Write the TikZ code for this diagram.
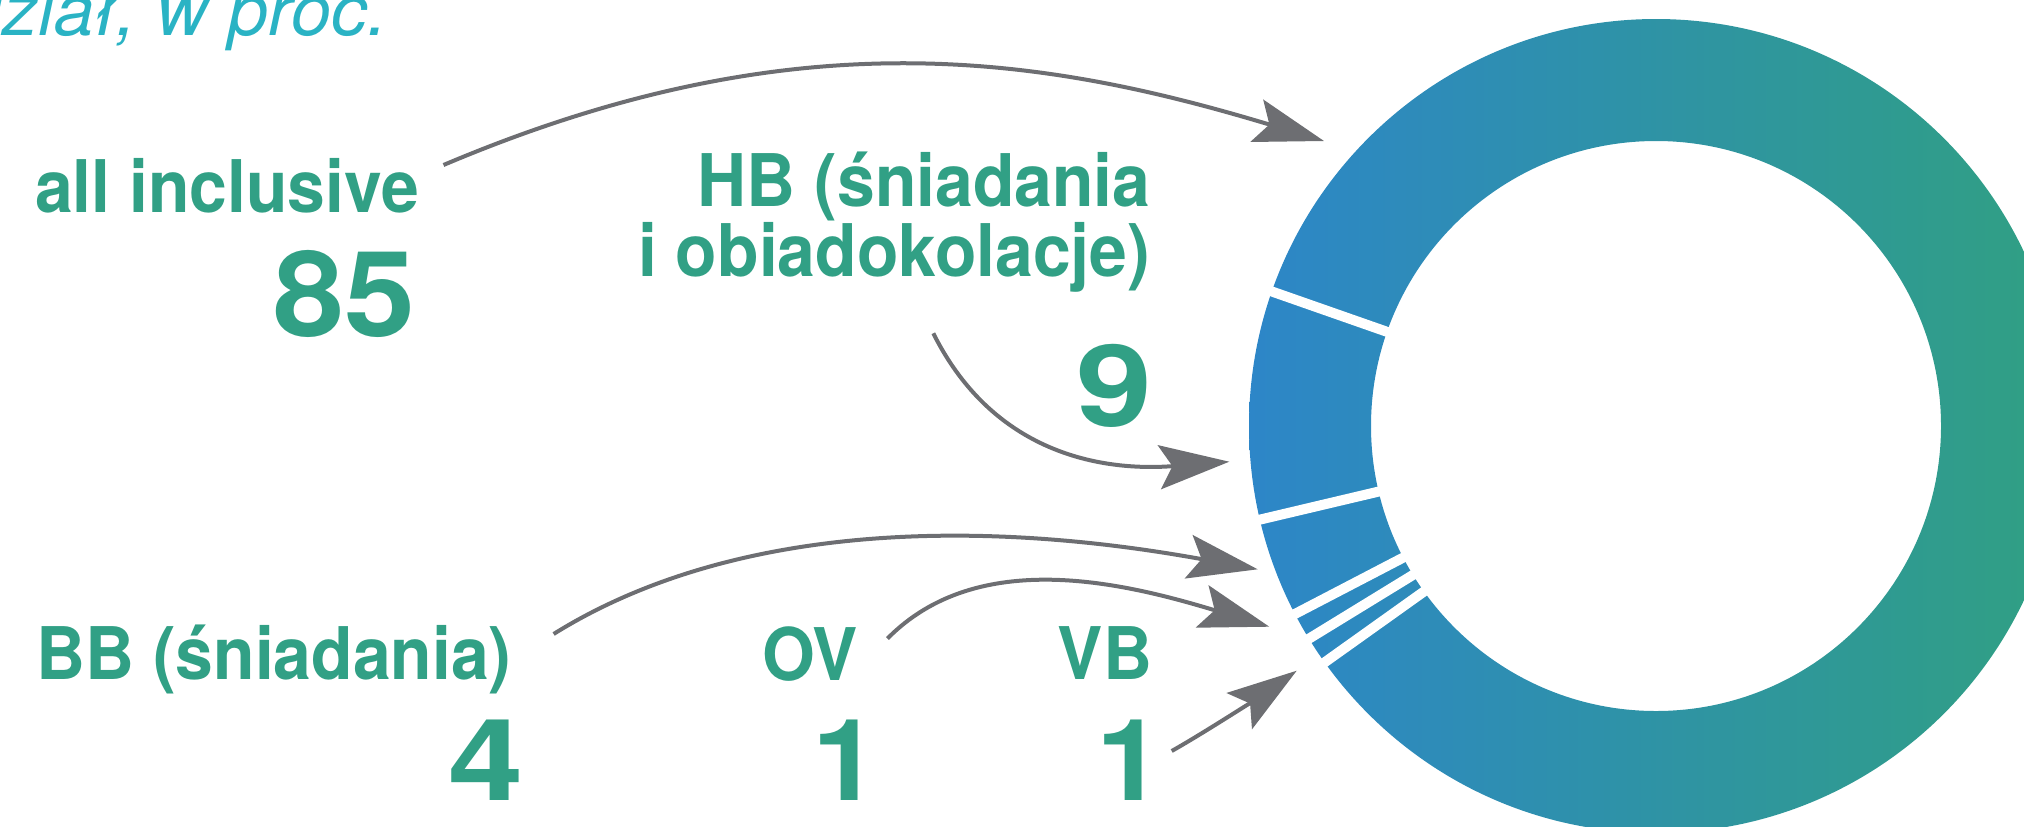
\documentclass[tikz,border=0pt]{standalone}
\usepackage{fontspec}
\setmainfont{TeX Gyre Heros}
\newfontfamily\labfont{TeX Gyre Heros}
\usepackage{graphicx}
\usetikzlibrary{arrows.meta}
\definecolor{txtgreen}{RGB}{49,160,133}
\definecolor{titlecyan}{RGB}{42,179,196}
\definecolor{arrowgray}{RGB}{109,110,114}
\definecolor{ringL}{RGB}{45,134,200}
\definecolor{ringR}{RGB}{48,160,130}
\begin{document}
\begin{tikzpicture}[x=0.5pt,y=-0.5pt,
  lab/.style={inner sep=0pt, outer sep=0pt, text=txtgreen, font=\labfont\bfseries\fontsize{36.3}{42}\selectfont},
  num/.style={inner sep=0pt, outer sep=0pt, text=txtgreen, font=\labfont\bfseries\fontsize{56.8}{60}\selectfont},
  bignum/.style={num, font=\labfont\bfseries\fontsize{59.5}{62}\selectfont},
  conn/.style={draw=arrowgray, line width=2pt, -{Stealth[length=35pt,width=22pt,inset=6.5pt]}},
  gapline/.style={draw=white, line width=5pt}]
\useasboundingbox (0,0) rectangle (2024,826);
\clip (0,0) rectangle (2024,826);
% ring
\coordinate (C) at (1656,426);
\shade[even odd rule, left color=ringL, right color=ringR] (C) circle (407) (C) circle (285);
\foreach \a in {199.3,166.7,152.5,148.5,144.5}
  \draw[gapline] (C) ++(\a:268) -- ++(\a:155);
% title
\node[inner sep=0pt, anchor=base east, text=titlecyan, font=\labfont\itshape\fontsize{36}{40}\selectfont] (title) at (388,35) {Udział, w proc.};
% labels
\node[lab, anchor=base west] (allinc) at (35,212.7) {\scalebox{0.935}[1]{all inclusive}};
\node[bignum, anchor=base east] (n85) at (415,336.5) {\scalebox{1.07}[1]{85}};
\node[lab, anchor=base east] (hb1) at (1150.5,206.7) {\scalebox{0.935}[1]{HB (śniadania}};
\node[lab, anchor=base east] (hb2) at (1150,276.7) {\scalebox{0.935}[1]{i obiadokolacje)}};
\node[num, anchor=base east] (n9) at (1152,426.8) {\scalebox{1.2}[1]{9}};
\node[lab, anchor=base west] (bb) at (36.3,679.3) {\scalebox{0.935}[1]{BB (śniadania)}};
\node[num, anchor=base east] (n4) at (524,800.7) {\scalebox{1.19}[1]{4}};
\node[lab, anchor=base west] (ov) at (762.3,680) {\scalebox{0.935}[1]{OV}};
\node[num, anchor=base east] (n1a) at (879.3,800.7) {\scalebox{1.06}[1]{1}};
\node[lab, anchor=base east] (vb) at (1152,679) {\scalebox{0.935}[1]{VB}};
\node[num, anchor=base east] (n1b) at (1163.8,800.7) {\scalebox{1.06}[1]{1}};
% connectors
\coordinate (sAI) at (443.5,165);   \coordinate (tAI) at (1324,141);
\coordinate (sHB) at (933.3,333.3); \coordinate (tHB) at (1229.3,461.7);
\coordinate (sBB) at (553.6,634);   \coordinate (tBB) at (1257.7,569.3);
\coordinate (sOV) at (887.5,638.5); \coordinate (tOV) at (1269.3,626.7);
\coordinate (sVB) at (1171.7,751);  \coordinate (tVB) at (1296.7,670.7);
\draw[conn] (sAI) .. controls (793,17) and (1039,55) .. (tAI);
\draw[conn] (sHB) .. controls (995.9,458.5) and (1109.3,471.1) .. (tHB);
\draw[conn] (sBB) .. controls (723.6,528) and (962.5,515.6) .. (tBB);
\draw[conn] (sOV) .. controls (978.5,546.2) and (1125.8,583.4) .. (tOV);
\draw[conn] (sVB) .. controls (1206.5,731.4) and (1264,693.7) .. (tVB);
\end{tikzpicture}
\end{document}
